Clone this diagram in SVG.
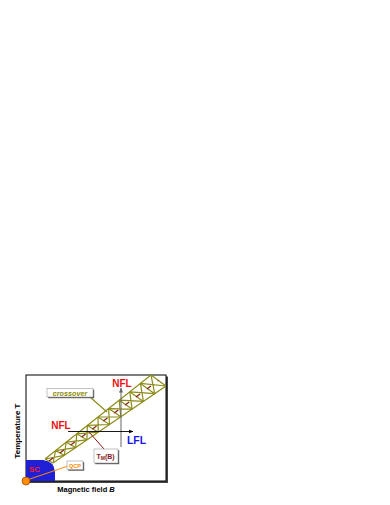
<svg xmlns="http://www.w3.org/2000/svg" width="390" height="505" viewBox="0 0 390 505">
<style>
text{font-family:"Liberation Sans",Arial,sans-serif;font-weight:bold}
.band{fill:none;stroke:#8c8c1a;stroke-width:1.2}
.lbl{fill:#fff;stroke:#999;stroke-width:0.6}
.sh{fill:#555}
</style>
<defs>
<clipPath id="fr"><rect x="26" y="375" width="140" height="106"/></clipPath>
<marker id="ah" viewBox="0 0 10 10" refX="9" refY="5" markerWidth="5" markerHeight="5" orient="auto"><path d="M0,1 L10,5 L0,9 Z" fill="#000"/></marker>
<marker id="ahg" viewBox="0 0 10 10" refX="9" refY="5" markerWidth="5" markerHeight="5" orient="auto"><path d="M0,1 L10,5 L0,9 Z" fill="#666"/></marker>
</defs>
<rect width="390" height="505" fill="#fff"/>

<g id="frame">
<path d="M167,376.5 V482 H27.5" fill="none" stroke="#444" stroke-width="2"/>
<rect x="26" y="375" width="140" height="106" fill="none" stroke="#000" stroke-width="1"/>
</g>

<g id="axis-labels">
<text x="0" y="0" font-size="8" text-anchor="middle" transform="translate(20,431) rotate(-90)">Temperature T</text>
<text x="86" y="492" font-size="7.5" text-anchor="middle">Magnetic field <tspan font-style="italic">B</tspan></text>
</g>

<g id="crossover-band" clip-path="url(#fr)">
<path class="band" d="M45,459 L151,375 M53,463 L166,386"/>
<path class="band" d="M45,459 L53,463 M55.6,450.6 L64.3,455.3 M66.2,442.2 L75.6,447.6 M76.8,433.8 L86.9,439.9 M87.4,425.4 L98.2,432.2 M98,417 L109.5,424.5 M108.6,408.6 L120.8,416.8 M119.2,400.2 L132.1,409.1 M129.8,391.8 L143.4,401.4 M140.4,383.4 L154.7,393.7 M151,375 L166,386"/>
<path class="band" d="M45,459 L64.3,455.3 M53,463 L55.6,450.6 M55.6,450.6 L75.6,447.6 M64.3,455.3 L66.2,442.2 M66.2,442.2 L86.9,439.9 M75.6,447.6 L76.8,433.8 M76.8,433.8 L98.2,432.2 M86.9,439.9 L87.4,425.4 M87.4,425.4 L109.5,424.5 M98.2,432.2 L98,417 M98,417 L120.8,416.8 M109.5,424.5 L108.6,408.6 M108.6,408.6 L132.1,409.1 M120.8,416.8 L119.2,400.2 M119.2,400.2 L143.4,401.4 M132.1,409.1 L129.8,391.8 M129.8,391.8 L154.7,393.7 M143.4,401.4 L140.4,383.4 M140.4,383.4 L166,386 M154.7,393.7 L151,375"/>
<path d="M49,461 L158.5,380.5" fill="none" stroke="#8b1a1a" stroke-width="1.2" stroke-dasharray="5 8.5"/>
</g>

<g id="sc">
<path d="M26,460 H43 Q54,461 55,472 V481 H26 Z" fill="#1f1fd6"/>
<text x="29" y="471.5" font-size="8" fill="#ff1a1a">SC</text>
</g>

<g id="connectors">
<line x1="121" y1="447" x2="121" y2="388" stroke="#666" stroke-width="1" marker-end="url(#ahg)"/>
<line x1="68" y1="431.5" x2="133" y2="431.5" stroke="#000" stroke-width="0.9" marker-end="url(#ah)"/>
<line x1="90" y1="397" x2="107" y2="412" stroke="#8c8c1a" stroke-width="1.2"/>
<line x1="89" y1="432" x2="104" y2="449" stroke="#8b1a1a" stroke-width="1"/>
<line x1="27" y1="480" x2="68" y2="466" stroke="#ff8c00" stroke-width="1"/>
</g>

<g id="nfl-top"><text x="122" y="387" font-size="10" fill="#ee1111" text-anchor="middle">NFL</text></g>
<g id="nfl-left"><text x="61" y="428.5" font-size="10" fill="#ee1111" text-anchor="middle">NFL</text></g>
<g id="lfl"><text x="136.5" y="443.5" font-size="10.5" fill="#1515ee" text-anchor="middle">LFL</text></g>

<g id="crossover-label">
<rect class="sh" x="48.2" y="389.7" width="46" height="8.5"/>
<rect class="lbl" x="47" y="388.5" width="46" height="8.5"/>
<text x="70" y="395.6" font-size="7.2" font-style="italic" fill="#8c8c00" text-anchor="middle">crossover</text>
</g>

<g id="tm-label">
<rect class="sh" x="95.2" y="450.2" width="24" height="14"/>
<rect class="lbl" x="94" y="449" width="24" height="14"/>
<text x="96.5" y="458.5" font-size="7" fill="#8b1a1a">T<tspan font-size="5" dy="1.5">M</tspan><tspan dy="-1.5">(B)</tspan></text>
</g>

<g id="qcp-label">
<rect class="sh" x="68.2" y="462.2" width="16" height="8.5"/>
<rect class="lbl" x="67" y="461" width="16" height="8.5"/>
<text x="75" y="467.8" font-size="5.5" fill="#ff8c00" text-anchor="middle">QCP</text>
</g>

<g id="qcp-point">
<circle cx="26" cy="481" r="4" fill="#ff8c00" stroke="#a04000" stroke-width="0.7"/>
</g>
</svg>
